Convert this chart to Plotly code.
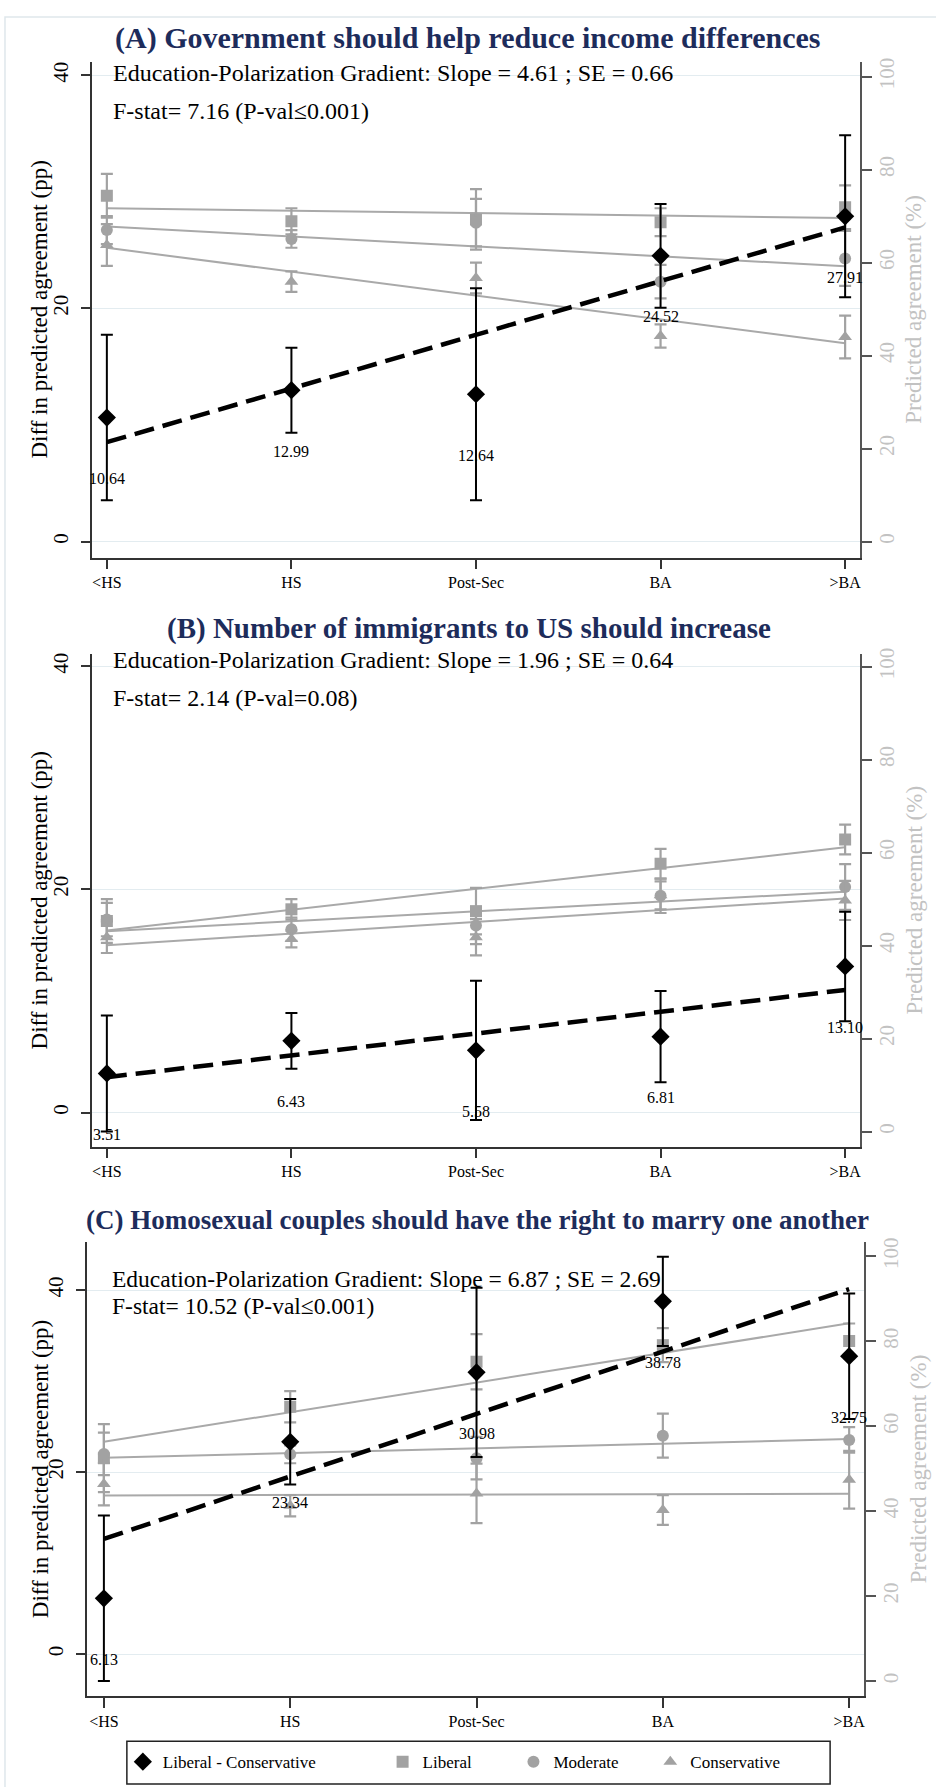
import numpy as np
import plotly.graph_objects as go

# ---------------- data ----------------
categories = ["<HS", "HS", "Post-Sec", "BA", ">BA"]

titles = ["(A) Government should help reduce income differences",
          "(B) Number of immigrants to US should increase",
          "(C) Homosexual couples should have the right to marry one another"]
slopes = ["4.61", "1.96", "6.87"]
ses = ["0.66", "0.64", "2.69"]
fstats = ["7.16", "2.14", "10.52"]
pvals = ["≤0.001", "=0.08", "≤0.001"]

# Panel A
a_diff = [10.64, 12.99, 12.64, 24.52, 27.91]
a_diff_err = [7.1, 3.65, 9.1, 4.45, 6.95]
a_lib = [74.4, 68.9, 69.3, 68.7, 71.9]
a_lib_err = [4.7, 2.8, 6.5, 3.0, 4.7]
a_mod = [67.0, 65.1, 68.6, 55.9, 60.9]
a_mod_err = [3.0, 1.9, 5.1, 3.6, 5.9]
a_con = [63.8, 55.9, 56.7, 44.2, 44.0]
a_con_err = [4.5, 2.2, 3.3, 2.5, 4.6]

# Panel B
b_diff = [3.51, 6.43, 5.58, 6.81, 13.10]
b_diff_err = [5.2, 2.5, 6.25, 4.1, 4.9]
b_lib = [45.3, 47.8, 47.4, 57.6, 62.8]
b_lib_err = [4.7, 2.2, 5.0, 3.2, 3.2]
b_mod = [45.6, 43.5, 44.3, 50.7, 52.6]
b_mod_err = [3.6, 2.5, 4.0, 3.7, 4.9]
b_con = [41.8, 41.4, 41.8, 50.8, 49.7]
b_con_err = [3.4, 1.8, 3.9, 3.0, 4.2]

# Panel C
c_diff = [6.13, 23.34, 30.98, 38.78, 32.75]
c_diff_err = [9.1, 4.7, 9.3, 4.9, 6.9]
c_lib = [52.5, 64.6, 75.2, 79.1, 80.1]
c_lib_err = [8.0, 3.7, 6.5, 4.0, 4.1]
c_mod = [53.5, 53.4, 52.5, 57.8, 56.8]
c_mod_err = [5.0, 2.1, 5.0, 5.2, 3.0]
c_con = [46.4, 41.3, 44.2, 40.3, 47.4]
c_con_err = [5.0, 2.5, 7.0, 3.5, 6.8]

panels = [
    dict(diff=a_diff, diff_err=a_diff_err, lib=a_lib, lib_err=a_lib_err,
         mod=a_mod, mod_err=a_mod_err, con=a_con, con_err=a_con_err),
    dict(diff=b_diff, diff_err=b_diff_err, lib=b_lib, lib_err=b_lib_err,
         mod=b_mod, mod_err=b_mod_err, con=b_con, con_err=b_con_err),
    dict(diff=c_diff, diff_err=c_diff_err, lib=c_lib, lib_err=c_lib_err,
         mod=c_mod, mod_err=c_mod_err, con=c_con, con_err=c_con_err),
]

# ---------------- geometry / style ----------------
W, H = 936, 1787
SERIF = "Liberation Serif, Times New Roman, serif"
GRAY = "#a2a2a2"
LGRAY_TXT = "#c2c2c2"
NAVY = "#1d2c5b"

geo = [
    dict(L=92, R=861, T=55, B=552.7, lr=[-1.37, 41.17], rr=[-3.43, 103.2],
         xr=[-0.081, 4.081], title_y=31, title_x=468, title_size=30,
         t1_y=66, t2_y=104, txt_x=111, txt_size=24),
    dict(L=92, R=861, T=650, B=1144, lr=[-3.04, 41.07], rr=[-3.21, 102.6],
         xr=[-0.081, 4.081], title_y=624, title_x=470, title_size=29,
         t1_y=656, t2_y=694, txt_x=111, txt_size=24),
    dict(L=87.3, R=865, T=1240, B=1696, lr=[-4.65, 45.29], rr=[-3.59, 103.36],
         xr=[-0.0895, 4.080], title_y=1218, title_x=478, title_size=27,
         t1_y=1277, t2_y=1304, txt_x=110, txt_size=23.5),
]

# legend: symbol centres (px) and vertical centre
legend_sym_x = [143, 403, 534, 671]
legend_y = 1762
legend_box = (127, 831, 1741, 1784)


def px(xp):
    return xp / W


def py(yp):
    return 1 - yp / H


fig = go.Figure()
xs = np.arange(len(categories))
annotations = []
layout_axes = {}

series_style = [("lib", "Liberal", "square", 12, "legend2"),
                ("mod", "Moderate", "circle", 12, "legend3"),
                ("con", "Conservative", "triangle-up", 12, "legend4")]

for p, d in enumerate(panels):
    g = geo[p]
    xname = "x" if p == 0 else f"x{p + 1}"
    ybase = "y" if p == 0 else f"y{2 * p + 1}"
    yover = f"y{2 * p + 2}"
    xkey = "xaxis" if p == 0 else f"xaxis{p + 1}"
    ybkey = "yaxis" if p == 0 else f"yaxis{2 * p + 1}"
    yokey = f"yaxis{2 * p + 2}"

    # gray fitted lines (OLS of each series) + markers on the right (%) axis
    for key, name, sym, size, leg in series_style:
        vals = np.array(d[key])
        b1, b0 = np.polyfit(xs, vals, 1)
        fig.add_trace(go.Scatter(
            x=xs, y=b0 + b1 * xs, mode="lines", xaxis=xname, yaxis=ybase,
            line=dict(color="#a9a9a9", width=2), showlegend=False,
            hoverinfo="skip"))
    for key, name, sym, size, leg in series_style:
        fig.add_trace(go.Scatter(
            x=xs, y=d[key], mode="markers", xaxis=xname, yaxis=ybase,
            name=name, legend=leg, showlegend=(p == 0),
            marker=dict(symbol=sym, size=size, color=GRAY),
            error_y=dict(type="data", array=d[key + "_err"], visible=True,
                         color=GRAY, thickness=2.2, width=6)))

    # black difference series on the left (pp) axis
    dv = np.array(d["diff"])
    b1, b0 = np.polyfit(xs, dv, 1)
    fig.add_trace(go.Scatter(
        x=xs, y=b0 + b1 * xs, mode="lines", xaxis=xname, yaxis=yover,
        line=dict(color="black", width=4.5, dash="20px,9px"),
        showlegend=False, hoverinfo="skip"))
    fig.add_trace(go.Scatter(
        x=xs, y=d["diff"], mode="markers", xaxis=xname, yaxis=yover,
        name="Liberal - Conservative", legend="legend", showlegend=(p == 0),
        marker=dict(symbol="diamond", size=14, color="black"),
        error_y=dict(type="data", array=d["diff_err"], visible=True,
                     color="black", thickness=2, width=6)))

    for i, v in enumerate(d["diff"]):
        annotations.append(dict(
            x=i, y=v, xref=xname, yref=yover, text=f"{v:.2f}",
            showarrow=False, yshift=-61,
            font=dict(family=SERIF, size=16, color="black")))

    dom_x = [px(g["L"]), px(g["R"])]
    dom_y = [py(g["B"]), py(g["T"])]
    layout_axes[xkey] = dict(
        domain=dom_x, range=g["xr"], anchor=ybase,
        tickmode="array", tickvals=list(xs), ticktext=categories,
        ticks="outside", ticklen=10, tickwidth=1.5, tickcolor="#333",
        showline=True, linecolor="#333", linewidth=1.5,
        showgrid=False, zeroline=False, ticklabelstandoff=0,
        tickfont=dict(family=SERIF, size=16, color="black"))
    layout_axes[ybkey] = dict(
        domain=dom_y, range=g["rr"], anchor=xname, side="right",
        tickmode="array", tickvals=[0, 20, 40, 60, 80, 100],
        ticks="outside", ticklen=10, tickwidth=1.5, tickcolor="#555",
        showline=True, linecolor="#555", linewidth=1.5,
        showgrid=False, zeroline=False, tickangle=-90, ticklabelstandoff=-3,
        tickfont=dict(family=SERIF, size=21, color=LGRAY_TXT))
    layout_axes[yokey] = dict(
        domain=dom_y, range=g["lr"], anchor=xname, side="left",
        overlaying=ybase,
        tickmode="array", tickvals=[0, 20, 40],
        ticks="outside", ticklen=9, tickwidth=1.5, tickcolor="#333",
        showline=True, linecolor="#333", linewidth=1.5,
        showgrid=True, gridcolor="#e3ecf0", gridwidth=1.2,
        zeroline=False, tickangle=-90, ticklabelstandoff=5,
        tickfont=dict(family=SERIF, size=21, color="black"))

    # panel title
    annotations.append(dict(
        x=px(g["title_x"]), y=py(g["title_y"]), xref="paper", yref="paper",
        text=f"<b>{titles[p]}</b>", showarrow=False,
        xanchor="center", yanchor="middle",
        font=dict(family=SERIF, size=g["title_size"], color=NAVY)))
    # stats text
    annotations.append(dict(
        x=px(g["txt_x"]), y=py(g["t1_y"]), xref="paper", yref="paper",
        text=f"Education-Polarization Gradient: Slope = {slopes[p]} ; SE = {ses[p]}",
        showarrow=False, xanchor="left", yanchor="middle",
        font=dict(family=SERIF, size=g["txt_size"], color="black")))
    annotations.append(dict(
        x=px(g["txt_x"]), y=py(g["t2_y"]), xref="paper", yref="paper",
        text=f"F-stat= {fstats[p]} (P-val{pvals[p]})",
        showarrow=False, xanchor="left", yanchor="middle",
        font=dict(family=SERIF, size=g["txt_size"], color="black")))
    # axis titles
    ymid = (g["T"] + g["B"]) / 2
    annotations.append(dict(
        x=px(40), y=py(ymid), xref="paper", yref="paper",
        text="Diff in predicted agreement (pp)", textangle=-90,
        showarrow=False, xanchor="center", yanchor="middle",
        font=dict(family=SERIF, size=23, color="black")))
    annotations.append(dict(
        x=px(g["R"] + 54), y=py(ymid), xref="paper", yref="paper",
        text="Predicted agreement (%)", textangle=-90,
        showarrow=False, xanchor="center", yanchor="middle",
        font=dict(family=SERIF, size=23, color=LGRAY_TXT)))

legends = {}
for k, sx in enumerate(legend_sym_x):
    key = "legend" if k == 0 else f"legend{k + 1}"
    legends[key] = dict(
        orientation="h", x=px(sx - 20), xanchor="left",
        y=py(legend_y), yanchor="middle", borderwidth=0,
        bgcolor="rgba(0,0,0,0)",
        font=dict(family=SERIF, size=17, color="black"))

fig.update_layout(
    width=W, height=H,
    margin=dict(l=0, r=0, t=0, b=0),
    paper_bgcolor="white", plot_bgcolor="white",
    annotations=annotations,
    shapes=[dict(type="rect", xref="paper", yref="paper",
                 x0=px(5), x1=1.2, y0=-0.2, y1=py(10),
                 line=dict(color="#dfe7eb", width=1.5), layer="below"),
            dict(type="rect", xref="paper", yref="paper",
                 x0=px(legend_box[0]), x1=px(legend_box[1]),
                 y0=py(legend_box[3]), y1=py(legend_box[2]),
                 line=dict(color="#222", width=1.5), layer="below")],
    **legends,
    **layout_axes,
)

fig.write_html("out.html")
